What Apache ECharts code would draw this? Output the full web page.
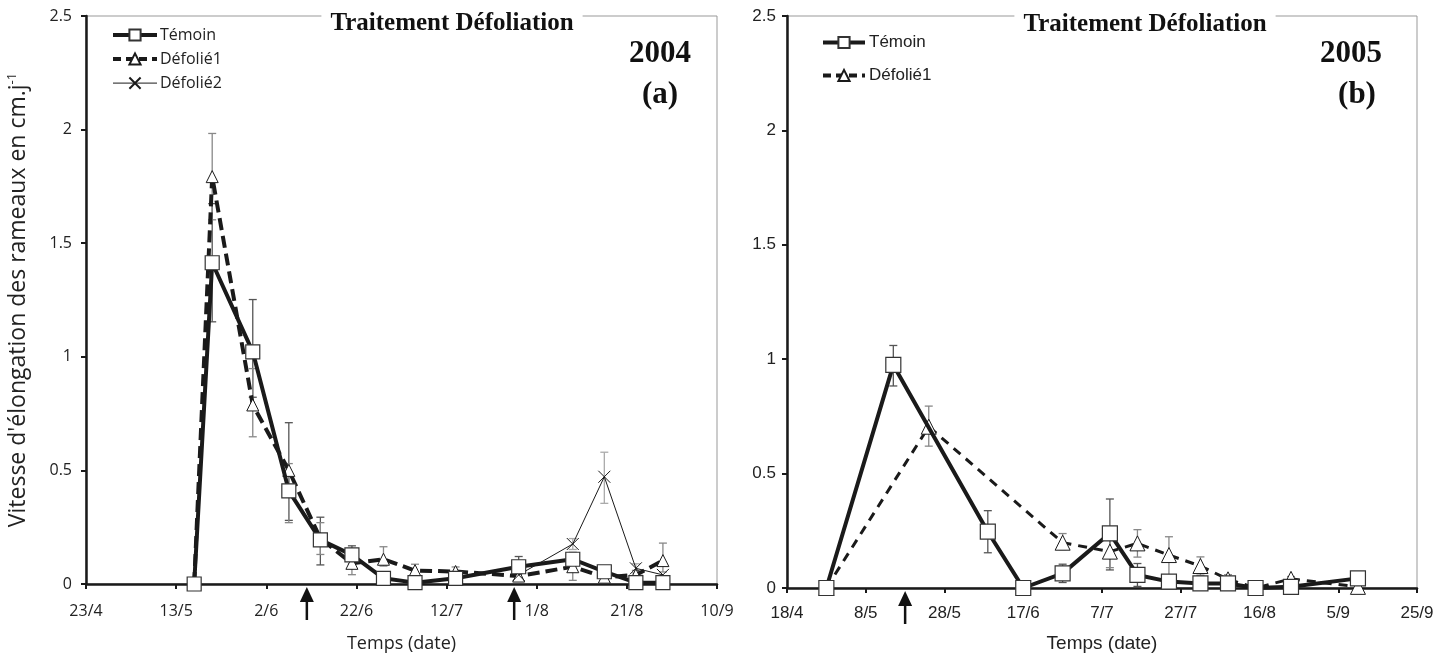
<!DOCTYPE html>
<html><head><meta charset="utf-8">
<script src="https://cdn.jsdelivr.net/npm/echarts@6/dist/echarts.min.js"></script>
<style>html,body{margin:0;padding:0;background:#fff}#c{width:1456px;height:661px}</style>
</head><body><div id="c"></div>
<script>
// ---------- 2004 (a) ----------
const year2004 = 2004, start2004 = '23/4';
const xTicks2004 = ['23/4','13/5','2/6','22/6','12/7','1/8','21/8','10/9'];
const dates2004 = ['17/5','21/5','30/5','7/6','14/6','21/6','28/6','5/7','14/7','28/7','9/8','16/8','23/8','29/8'];
const temoin2004 = [0,1.414,1.022,0.41,0.194,0.128,0.025,0.006,0.025,0.076,0.109,0.054,0.006,0.006];
const temoin2004ErrPlus = [0,0.26,0.23,0.30,0.10,0.04,0.01,0.01,0.01,0.045,0.03,0.02,0,0];
const temoin2004ErrMinus = [0,0.26,0.20,0.13,0.11,0.04,0.01,0.01,0.01,0.03,0.03,0.02,0,0];
const defolie1_2004 = [0,1.793,0.788,0.50,0.20,0.091,0.109,0.059,0.055,0.035,0.076,0.03,0.04,0.103];
const defolie1_2004ErrPlus = [0,0.19,0.16,0.03,0.07,0.06,0.055,0.028,0.02,0.02,0.06,0.02,0.02,0.077];
const defolie1_2004ErrMinus = [0,0.19,0.14,0.23,0.07,0.05,0.03,0.02,0.02,0.02,0.06,0.02,0.02,0.05];
const defolie2_2004 = [null,null,null,null,null,null,null,null,null,0.04,0.176,0.472,0.069,0.04];
const defolie2_2004ErrPlus = [0,0,0,0,0,0,0,0,0,0.01,0.024,0.108,0.02,0];
const defolie2_2004ErrMinus = [0,0,0,0,0,0,0,0,0,0.01,0.024,0.117,0.02,0];
const arrows2004 = ['11/6','27/7'];

// ---------- 2005 (b) ----------
const year2005 = 2005, start2005 = '18/4';
const xTicks2005 = ['18/4','8/5','28/5','17/6','7/7','27/7','16/8','5/9','25/9'];
const temoinDates2005 = ['28/4','15/5','8/6','17/6','27/6','9/7','16/7','24/7','1/8','8/8','15/8','24/8','10/9'];
const temoin2005 = [0,0.975,0.246,0,0.064,0.239,0.057,0.028,0.02,0.02,0,0.005,0.042];
const temoin2005ErrPlus = [0,0.085,0.092,0,0.04,0.15,0.05,0.01,0.015,0.01,0,0,0.02];
const temoin2005ErrMinus = [0,0.092,0.092,0,0.04,0.16,0.05,0.01,0.015,0.01,0,0,0.02];
const defolie1Dates2005 = ['28/4','24/5','27/6','9/7','16/7','24/7','1/8','8/8','15/8','24/8','10/9'];
const defolie1_2005 = [0,0.705,0.198,0.159,0.195,0.144,0.096,0.038,0,0.04,0.005];
const defolie1_2005ErrPlus = [0,0.09,0.04,0.07,0.06,0.08,0.04,0.02,0,0.01,0];
const defolie1_2005ErrMinus = [0,0.085,0.03,0.07,0.06,0.10,0.04,0.02,0,0.01,0];
const arrows2005 = ['18/5'];

const yTicks = [0,0.5,1,1.5,2,2.5];

function dayOf(dm, year, startDm){
  const [d,m] = dm.split('/').map(Number);
  const [sd,sm] = startDm.split('/').map(Number);
  return Math.round((Date.UTC(year,m-1,d) - Date.UTC(year,sm-1,sd))/86400000);
}
function pts(dates, vals, year, start){
  const out = [];
  dates.forEach((d,i)=>{ if(vals[i]!=null) out.push([dayOf(d,year,start), vals[i]]); });
  return out;
}
function errPts(dates, vals, plus, minus, year, start){
  const out = [];
  dates.forEach((d,i)=>{ if(vals[i]!=null) out.push([dayOf(d,year,start), vals[i], minus[i], plus[i]]); });
  return out;
}
function errRender(color){
  return function(params, api){
    const x = api.value(0), y = api.value(1), lo = api.value(2), hi = api.value(3);
    if (!(lo > 0 || hi > 0)) return null;
    const t = api.coord([x, y + hi]), b = api.coord([x, y - lo]);
    const w = 4, st = {stroke: color, lineWidth: 1.3};
    return {type:'group', children:[
      {type:'line', shape:{x1:t[0],y1:t[1],x2:b[0],y2:b[1]}, style:st},
      {type:'line', shape:{x1:t[0]-w,y1:t[1],x2:t[0]+w,y2:t[1]}, style:st},
      {type:'line', shape:{x1:b[0]-w,y1:b[1],x2:b[0]+w,y2:b[1]}, style:st}
    ]};
  };
}
function arrowRender(params, api){
  const p = api.coord([api.value(0), 0]);
  const x = p[0], y = p[1];
  return {type:'group', children:[
    {type:'polygon', shape:{points:[[x,y+3],[x-7,y+18],[x+7,y+18]]}, style:{fill:'#111'}},
    {type:'line', shape:{x1:x,y1:y+16,x2:x,y2:y+36}, style:{stroke:'#111', lineWidth:2.5}}
  ]};
}

const fA = 'Open Sans', fB = 'Liberation Sans', fT = 'Liberation Serif';
const black = '#1a1a1a';
const xSym = 'path://M0,0L10,10M10,0L0,10';

function xAxisDef(grid, max, ticks, font, size, margin, nameGap, nameSize){
  return {
    gridIndex: grid, type:'value', min:0, max:max, interval:20,
    axisLine:{show:true, onZero:false, lineStyle:{color:black, width:2.5}},
    axisTick:{show:true, length:5, lineStyle:{color:black, width:2}},
    axisLabel:{formatter:(v)=>ticks[Math.round(v/20)], fontFamily:font, fontSize:size, color:'#222', margin:margin},
    splitLine:{show:false},
    name:'Temps (date)', nameLocation:'middle', nameGap:nameGap,
    nameTextStyle:{fontFamily:font, fontSize:nameSize, color:'#222'}
  };
}
function yAxisDef(grid, font, size, margin, name){
  const o = {
    gridIndex: grid, type:'value', min:0, max:2.5, interval:0.5,
    axisLine:{show:true, lineStyle:{color:black, width:2.5}},
    axisTick:{show:true, length:5, lineStyle:{color:black, width:2}},
    axisLabel:{fontFamily:font, fontSize:size, color:'#222', margin:margin, formatter:(v)=>String(yTicks[Math.round(v/0.5)])},
    splitLine:{show:false}
  };
  if (name) {
    o.name = name; o.nameLocation = 'middle'; o.nameRotate = 90; o.nameGap = 55;
    o.nameTextStyle = {fontFamily:font, fontSize:23, color:'#222', rich:{sup:{fontFamily:font, fontSize:13, color:'#222', verticalAlign:'top', padding:[0,0,12,0]}}};
  }
  return o;
}

const option = {
  animation:false,
  backgroundColor:'#fff',
  grid:[
    {left:86, top:16, width:631, height:568, show:true, borderColor:'#999', borderWidth:1, backgroundColor:'transparent'},
    {left:787, top:16, width:630, height:572, show:true, borderColor:'#999', borderWidth:1, backgroundColor:'transparent'}
  ],
  xAxis:[
    xAxisDef(0, 140, xTicks2004, fA, 16, 19, 51, 18),
    xAxisDef(1, 160, xTicks2005, fB, 17, 17, 46, 19)
  ],
  yAxis:[
    yAxisDef(0, fA, 16, 14, "Vitesse d'élongation des rameaux en cm.j{sup|-1}"),
    yAxisDef(1, fB, 17, 11, null)
  ],
  legend:[
    {orient:'vertical', left:106, top:22, itemWidth:44, itemHeight:14, itemGap:8,
     data:[{name:'Témoin', lineStyle:{width:4}}, {name:'Défolié1', lineStyle:{width:4, type:[8,5]}}, {name:'Défolié2', lineStyle:{width:1}}],
     textStyle:{fontFamily:fA, fontSize:16, color:'#222', padding:[0,0,0,-2]}},
    {orient:'vertical', left:816, top:29, itemWidth:42, itemHeight:14, itemGap:16,
     data:[{name:'Témoin', lineStyle:{width:4}}, {name:'Défolié1', lineStyle:{width:4, type:[8,5]}}],
     textStyle:{fontFamily:fB, fontSize:17, color:'#222', padding:[0,0,0,-1]}}
  ],
  graphic:[
    {type:'text', z:100, x:452, y:24, style:{text:'Traitement Défoliation', align:'center', verticalAlign:'middle', font:'bold 25px "Liberation Serif"', fill:'#111', backgroundColor:'#fff', padding:[2,9]}},
    {type:'text', z:100, x:1145, y:25, style:{text:'Traitement Défoliation', align:'center', verticalAlign:'middle', font:'bold 25px "Liberation Serif"', fill:'#111', backgroundColor:'#fff', padding:[2,9]}},
    {type:'text', z:100, x:660, y:54, style:{text:'2004', align:'center', verticalAlign:'middle', font:'bold 31px "Liberation Serif"', fill:'#111'}},
    {type:'text', z:100, x:660, y:95, style:{text:'(a)', align:'center', verticalAlign:'middle', font:'bold 31px "Liberation Serif"', fill:'#111'}},
    {type:'text', z:100, x:1351, y:54, style:{text:'2005', align:'center', verticalAlign:'middle', font:'bold 31px "Liberation Serif"', fill:'#111'}},
    {type:'text', z:100, x:1357, y:95, style:{text:'(b)', align:'center', verticalAlign:'middle', font:'bold 31px "Liberation Serif"', fill:'#111'}}
  ],
  series:[
    // error bars 2004
    {type:'custom', xAxisIndex:0, yAxisIndex:0, z:1, renderItem:errRender('#555'), encode:{x:0,y:1}, silent:true,
     data:errPts(dates2004, temoin2004, temoin2004ErrPlus, temoin2004ErrMinus, year2004, start2004)},
    {type:'custom', xAxisIndex:0, yAxisIndex:0, z:1, renderItem:errRender('#888'), encode:{x:0,y:1}, silent:true,
     data:errPts(dates2004, defolie1_2004, defolie1_2004ErrPlus, defolie1_2004ErrMinus, year2004, start2004)},
    {type:'custom', xAxisIndex:0, yAxisIndex:0, z:1, renderItem:errRender('#aaa'), encode:{x:0,y:1}, silent:true,
     data:errPts(dates2004, defolie2_2004, defolie2_2004ErrPlus, defolie2_2004ErrMinus, year2004, start2004)},
    // lines 2004
    {name:'Défolié1', type:'line', xAxisIndex:0, yAxisIndex:0, z:3,
     data:pts(dates2004, defolie1_2004, year2004, start2004),
     symbol:'triangle', symbolSize:[12,12], showAllSymbol:true,
     lineStyle:{color:black, width:4, type:[12,6]}, itemStyle:{color:'#fff', borderColor:black, borderWidth:1}},
    {name:'Défolié2', type:'line', xAxisIndex:0, yAxisIndex:0, z:4,
     data:pts(dates2004, defolie2_2004, year2004, start2004),
     symbol:xSym, symbolSize:[12,12], showAllSymbol:true,
     lineStyle:{color:black, width:1}, itemStyle:{color:'none', borderColor:black, borderWidth:1}},
    {name:'Témoin', type:'line', xAxisIndex:0, yAxisIndex:0, z:5,
     data:pts(dates2004, temoin2004, year2004, start2004),
     symbol:'rect', symbolSize:[14,14], showAllSymbol:true,
     lineStyle:{color:black, width:4}, itemStyle:{color:'#fff', borderColor:'#333', borderWidth:1.2}},
    // arrows 2004
    {type:'custom', xAxisIndex:0, yAxisIndex:0, z:6, clip:false, silent:true, renderItem:arrowRender, encode:{x:0,y:1},
     data:arrows2004.map(d=>[dayOf(d,year2004,start2004),0])},

    // error bars 2005
    {type:'custom', xAxisIndex:1, yAxisIndex:1, z:1, renderItem:errRender('#555'), encode:{x:0,y:1}, silent:true,
     data:errPts(temoinDates2005, temoin2005, temoin2005ErrPlus, temoin2005ErrMinus, year2005, start2005)},
    {type:'custom', xAxisIndex:1, yAxisIndex:1, z:1, renderItem:errRender('#888'), encode:{x:0,y:1}, silent:true,
     data:errPts(defolie1Dates2005, defolie1_2005, defolie1_2005ErrPlus, defolie1_2005ErrMinus, year2005, start2005)},
    {name:'Défolié1', type:'line', xAxisIndex:1, yAxisIndex:1, z:3,
     data:pts(defolie1Dates2005, defolie1_2005, year2005, start2005),
     symbol:'triangle', symbolSize:[15,15], showAllSymbol:true,
     lineStyle:{color:black, width:3, type:[9,7]}, itemStyle:{color:'#fff', borderColor:black, borderWidth:1}},
    {name:'Témoin', type:'line', xAxisIndex:1, yAxisIndex:1, z:5,
     data:pts(temoinDates2005, temoin2005, year2005, start2005),
     symbol:'rect', symbolSize:[15,15], showAllSymbol:true,
     lineStyle:{color:black, width:4}, itemStyle:{color:'#fff', borderColor:'#333', borderWidth:1.2}},
    {type:'custom', xAxisIndex:1, yAxisIndex:1, z:6, clip:false, silent:true, renderItem:arrowRender, encode:{x:0,y:1},
     data:arrows2005.map(d=>[dayOf(d,year2005,start2005),0])}
  ]
};
const chart = echarts.init(document.getElementById('c'), null, {renderer:'canvas'});
chart.setOption(option);
</script>
</body></html>
